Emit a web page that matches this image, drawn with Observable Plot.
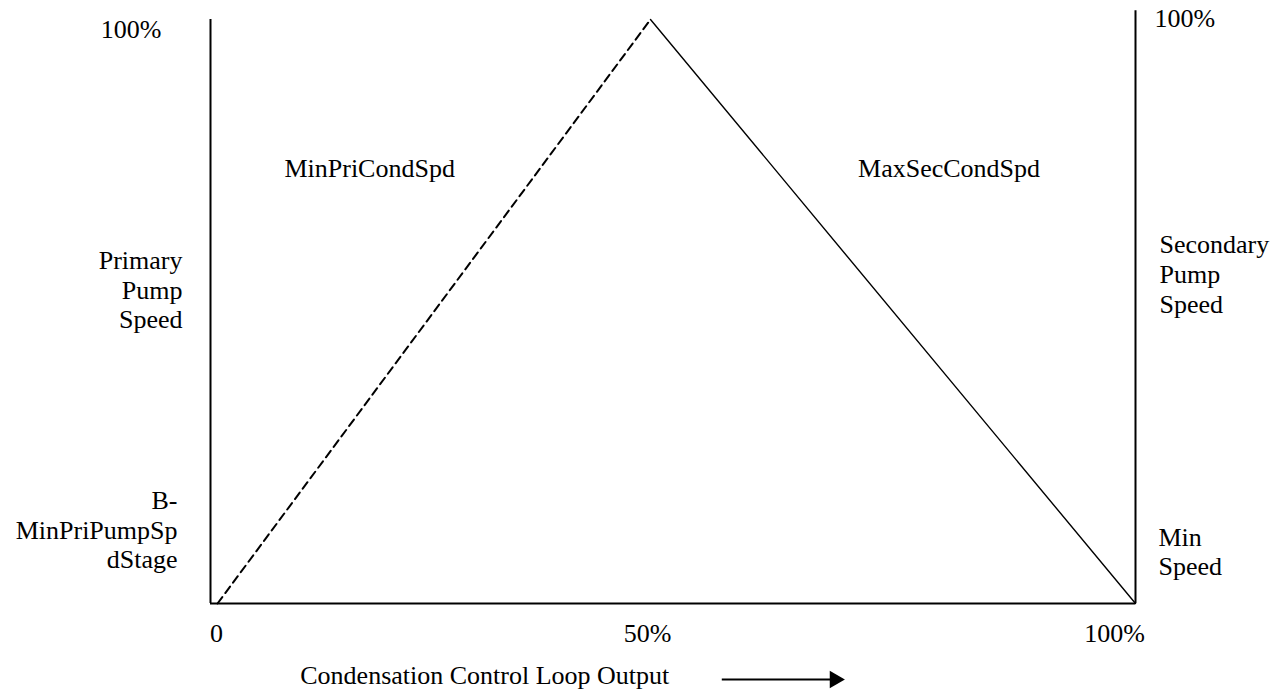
<!DOCTYPE html>
<html>
<head>
<meta charset="utf-8">
<script src="https://cdn.jsdelivr.net/npm/d3@7"></script>
<script src="https://cdn.jsdelivr.net/npm/@observablehq/plot@0.6"></script>
<style>
  html, body { margin: 0; padding: 0; background: #fff; }
  #chart svg { display: block; }
</style>
</head>
<body>
<div id="chart"></div>
<script>
// Condensation control loop output (%) vs pump speed (% of range)
const primaryPump = [ {x: 0.8, y: 0}, {x: 50, y: 100} ];   // dashed
const secondaryPump = [ {x: 50, y: 100}, {x: 100, y: 0} ]; // solid
const xTickValues = [0, 50, 100];
const xTickLabels = ["0", "50%", "100%"];
const leftLabels = ["100%", "Primary\nPump\nSpeed", "B-\nMinPriPumpSp\ndStage"];
const rightLabels = ["100%", "Secondary\nPump\nSpeed", "Min\nSpeed"];
const curveLabels = ["MinPriCondSpd", "MaxSecCondSpd"];
const xTitle = "Condensation Control Loop Output";

const FS = 26;
const font = "'Liberation Serif', 'Times New Roman', serif";
const txt = (data, opts) => Plot.text(data, {text: d => d, fontSize: FS, fill: "black", lineHeight: 1.15, lineAnchor: "bottom", ...opts});

const tickDx = [6, -3, -21];

const chart = Plot.plot({
  width: 1280,
  height: 689,
  margin: 0,
  style: {fontFamily: font, background: "white", color: "black"},
  x: {type: "linear", domain: [0, 50, 100], range: [210, 650, 1135], axis: null},
  y: {domain: [0, 100], range: [603, 19], axis: null},
  marks: [
    // axes
    Plot.ruleX([0], {y1: 0, y2: 100, stroke: "black", strokeWidth: 2}),
    Plot.ruleX([100], {y1: 0, y2: 101.5, stroke: "black", strokeWidth: 2}),
    Plot.ruleY([0], {x1: 0, x2: 100, stroke: "black", strokeWidth: 2}),
    // curves
    Plot.line(primaryPump, {x: "x", y: "y", stroke: "black", strokeWidth: 2, strokeDasharray: "8,5"}),
    Plot.line(secondaryPump, {x: "x", y: "y", stroke: "black", strokeWidth: 1.4}),
    // left labels
    txt([leftLabels[0]], {x: 0, y: 96.9, dx: -49, textAnchor: "end"}),
    txt([leftLabels[1]], {x: 0, y: 47.1, dx: -28, textAnchor: "end"}),
    txt([leftLabels[2]], {x: 0, y: 6.0, dx: -33, textAnchor: "end"}),
    // right labels
    txt([rightLabels[0]], {x: 100, y: 98.8, dx: 19, textAnchor: "start"}),
    txt([rightLabels[1]], {x: 100, y: 49.7, dx: 24, textAnchor: "start"}),
    txt([rightLabels[2]], {x: 100, y: 4.8, dx: 23, textAnchor: "start"}),
    // curve labels
    txt([curveLabels[0]], {x: 8.4, y: 73.1, textAnchor: "start"}),
    txt([curveLabels[1]], {x: 71.4, y: 73.1, textAnchor: "start"}),
    // x tick labels
    ...xTickLabels.map((t, i) => txt([t], {x: xTickValues[i], y: 0, dy: 38, dx: tickDx[i], textAnchor: "middle"})),
    // x title with arrow
    txt([xTitle], {x: 10.2, y: 0, dy: 80, textAnchor: "start"}),
    Plot.ruleY([0], {x1: 57.4, x2: 68.6, dy: 76, stroke: "black", strokeWidth: 2}),
    Plot.dot([0], {x: 69.0, y: 0, dy: 76, symbol: "triangle", rotate: 90, r: 6.5, fill: "black", stroke: "none"})
  ]
});
document.getElementById("chart").appendChild(chart);
</script>
</body>
</html>
